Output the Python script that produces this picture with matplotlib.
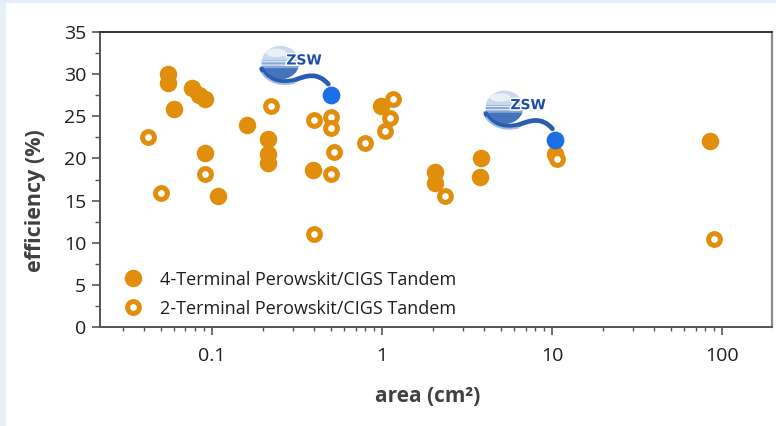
import numpy as np
import matplotlib
matplotlib.use("Agg")
import matplotlib.pyplot as plt
import matplotlib.patches as mpatches
from matplotlib.path import Path
from matplotlib.offsetbox import DrawingArea, AnnotationBbox
from matplotlib.ticker import LogLocator, FixedLocator, NullFormatter, FuncFormatter
import matplotlib.patheffects as pe

plt.rcParams['font.family'] = ['Open Sans', 'DejaVu Sans']

# 4-terminal perovskite/CIGS tandems (filled markers)
four_area = [0.0555, 0.0555, 0.060, 0.076, 0.0845, 0.091, 0.091, 0.109, 0.161,
             0.215, 0.215, 0.215, 0.393, 0.986, 2.06, 2.06, 3.82, 3.78, 10.46, 85.3]
four_eff = [30.0, 29.0, 25.9, 28.4, 27.5, 27.0, 20.7, 15.5, 24.0,
            22.3, 20.5, 19.5, 18.6, 26.2, 18.4, 17.1, 20.1, 17.8, 20.5, 22.1]

# 2-terminal perovskite/CIGS tandems (open markers)
two_area = [0.0424, 0.0503, 0.091, 0.223, 0.40, 0.40, 0.503, 0.50, 0.526, 0.503,
            0.80, 1.16, 1.11, 1.04, 2.35, 10.7, 90.4]
two_eff = [22.5, 15.9, 18.1, 26.2, 24.6, 11.0, 24.9, 23.6, 20.8, 18.2,
           21.8, 27.1, 24.8, 23.3, 15.5, 19.9, 10.5]

# ZSW results (highlighted)
zsw_area = [0.503, 10.46]
zsw_eff = [27.5, 22.2]

x_ticks = [0.1, 1, 10, 100]
x_tick_labels = ['0.1', '1', '10', '100']
y_ticks = [0, 5, 10, 15, 20, 25, 30, 35]

legend_labels = ['4-Terminal Perowskit/CIGS Tandem', '2-Terminal Perowskit/CIGS Tandem']

ORANGE = '#E08E0B'
BLUE = '#1A6FE3'
TEXT = '#1E1E1E'
LABEL = '#404040'

W, H, DPI = 776, 426, 100
fig = plt.figure(figsize=(W / DPI, H / DPI), dpi=DPI, facecolor='#E6EEF8')
# white panel
fig.patches.append(mpatches.Rectangle((6 / W, 0), 1, 1 - 3 / H, transform=fig.transFigure,
                                      facecolor='white', edgecolor='none', zorder=-10))

ax = fig.add_axes([100 / W, 1 - 327 / H, 672 / W, 295 / H])
ax.set_facecolor('white')
ax.set_xscale('log')
ax.set_xlim(0.022, 197)
ax.set_ylim(0, 35)

ax.plot(four_area, four_eff, 'o', ms=12.6, color=ORANGE, mec='none', zorder=3,
        label=legend_labels[0])
ax.plot(two_area, two_eff, 'o', ms=8.5, mfc='white', mec=ORANGE, mew=3.6, zorder=4,
        label=legend_labels[1])
ax.plot(zsw_area, zsw_eff, 'o', ms=12.8, color=BLUE, mec='none', zorder=6)


def ellipse_band(cx, cy, w, h, y_lo, y_hi, n=60):
    """Polygon of the part of an ellipse between two horizontal lines."""
    ys = np.linspace(max(y_lo, cy - h / 2), min(y_hi, cy + h / 2), n)
    half = (w / 2) * np.sqrt(np.clip(1 - ((ys - cy) / (h / 2)) ** 2, 0, 1))
    pts = np.concatenate([np.column_stack([cx - half, ys]),
                          np.column_stack([cx + half, ys])[::-1]])
    return pts


def zsw_logo():
    # drawing units are points; the marker sits at (56, 0)
    da = DrawingArea(56, 36, 0, 0)
    cx, cy, w, h = 19.5, 23.5, 27, 24
    da.add_artist(mpatches.Ellipse((cx, cy), w, h, facecolor='#C9D8EC', edgecolor='none'))
    da.add_artist(mpatches.Polygon(ellipse_band(cx, cy, w, h, cy - h, cy + 1.5),
                                   facecolor='#86A8D8', edgecolor='none'))
    da.add_artist(mpatches.Polygon(ellipse_band(cx, cy, w, h, cy - h, cy - 4),
                                   facecolor='#4674BC', edgecolor='none'))
    for yy in (cy + 0.2, cy - 2.2):
        da.add_artist(mpatches.Polygon(ellipse_band(cx, cy, w, h, yy, yy + 0.8, 10),
                                       facecolor='white', edgecolor='none', alpha=0.85))
    da.add_artist(mpatches.Ellipse((cx - 3, cy + 7), 15, 6, facecolor='#EEF3FA',
                                   edgecolor='none', alpha=0.9))
    # swoosh under the sphere leading to the marker
    verts = [(6, 19), (10, 11), (20, 8), (30, 11), (38, 14), (46, 17), (54, 8)]
    codes = [Path.MOVETO] + [Path.CURVE4] * 6
    da.add_artist(mpatches.PathPatch(Path(verts, codes), facecolor='none',
                                     edgecolor='#2A5DB0', lw=3.4, capstyle='round'))
    verts2 = [(6, 16.5), (11, 9), (20, 6.5), (30, 9)]
    da.add_artist(mpatches.PathPatch(Path(verts2, [Path.MOVETO] + [Path.CURVE4] * 3),
                                     facecolor='none', edgecolor='#9DBBE2', lw=1.4))
    t = matplotlib.text.Text(36.5, 25, 'ZSW', fontsize=10, fontweight='bold',
                             color='#1D4EA5', ha='center', va='center',
                             family='DejaVu Sans')
    t.set_path_effects([pe.withStroke(linewidth=2.2, foreground='white')])
    da.add_artist(t)
    return da


for xa, ye in zip(zsw_area, zsw_eff):
    ab = AnnotationBbox(zsw_logo(), (xa, ye), xybox=(0, 0), boxcoords='offset points',
                        frameon=False, pad=0, zorder=5, box_alignment=(1.0, 0.0))
    ax.add_artist(ab)

# axes styling
for side in ('left', 'bottom'):
    ax.spines[side].set_color('#555555')
    ax.spines[side].set_linewidth(1.4)
ax.spines['top'].set_color('#333333')
ax.spines['top'].set_linewidth(1.4)
ax.spines['right'].set_color('#8A8A8A')
ax.spines['right'].set_linewidth(1.6)

ax.xaxis.set_major_locator(FixedLocator(x_ticks))
ax.xaxis.set_major_formatter(FuncFormatter(
    lambda v, p: x_tick_labels[x_ticks.index(v)] if v in x_ticks else ''))
ax.xaxis.set_minor_locator(LogLocator(base=10, subs=range(2, 10), numticks=20))
ax.xaxis.set_minor_formatter(NullFormatter())
ax.yaxis.set_major_locator(FixedLocator(y_ticks))
ax.yaxis.set_minor_locator(FixedLocator([2.5 + 5 * i for i in range(7)]))

ax.tick_params(axis='x', which='major', direction='out', length=5.5, width=1.2,
               color='#555555', labelsize=14, labelcolor=TEXT, pad=9)
ax.tick_params(axis='x', which='minor', direction='out', length=3, width=1.0, color='#555555')
ax.tick_params(axis='y', which='major', direction='out', length=6, width=1.2,
               color='#555555', labelsize=14, labelcolor=TEXT, pad=4)
ax.tick_params(axis='y', which='minor', direction='out', length=3.5, width=1.0, color='#555555')

ax.set_xlabel('area (cm²)', fontsize=15, fontweight='bold', color=LABEL)
ax.xaxis.set_label_coords((428 - 100) / 672, -(386 - 327) / 295)
ax.set_ylabel('efficiency (%)', fontsize=15.5, fontweight='bold', color=LABEL)
ax.yaxis.set_label_coords((46 - 100) / 672, (327 - 201) / 295)

leg = ax.legend(loc='lower left', bbox_to_anchor=((115 - 100) / 672, (327 - 325) / 295),
                frameon=False, fontsize=13, handletextpad=0.9, labelspacing=0.62,
                borderaxespad=0, borderpad=0.4, handlelength=1.2, labelcolor=TEXT)

fig.savefig('out.png', dpi=DPI, facecolor=fig.get_facecolor())
